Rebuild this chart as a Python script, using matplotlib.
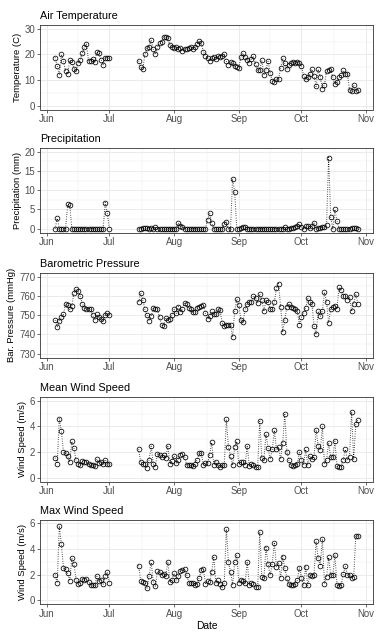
import numpy as np
import pandas as pd
import matplotlib
matplotlib.use("Agg")
import matplotlib.pyplot as plt
import matplotlib.dates as mdates

plt.rcParams['font.family'] = ['Liberation Sans', 'DejaVu Sans']

# Two recording periods (daily values), gap in between
seg1_days = pd.date_range("2019-06-05", "2019-07-01", freq="D")
seg2_days = pd.date_range("2019-07-15", "2019-10-28", freq="D")

temp_seg1 = [18.8, 15.5, 12.0, 20.0, 17.5, 13.5, 12.5, 17.8, 17.0, 14.5,
             13.5, 16.8, 17.8, 20.5, 22.8, 24.0, 17.5, 17.5, 18.2, 17.0,
             21.0, 20.5, 18.0, 16.0, 18.8, 18.8, 18.5]
temp_seg2 = [17.5, 15.0, 14.3, 20.0, 22.5, 22.8, 25.7, 22.0, 20.0, 22.8,
             24.3, 24.8, 26.8, 26.8, 26.5, 23.5, 22.8, 22.5, 22.8, 22.0,
             22.6, 21.4, 22.3, 22.0, 22.5, 22.8, 22.3, 23.0, 24.0, 25.2,
             24.5, 21.0, 19.5, 18.5, 17.5, 18.5, 19.0, 18.3, 19.5, 19.0,
             19.5, 20.0, 17.3, 16.0, 17.0, 16.5, 15.3, 15.0, 14.8, 19.0,
             20.5, 19.0, 18.0, 16.8, 18.3, 19.3, 16.2, 13.8, 14.0, 17.7,
             12.0, 14.0, 17.3, 12.9, 9.7, 9.3, 10.6, 10.3, 14.8, 18.5,
             16.5, 14.2, 15.8, 16.8, 17.0, 16.5, 17.0, 16.8, 15.5, 11.6,
             10.3, 11.0, 12.3, 14.2, 11.6, 7.5, 14.2, 11.3, 6.5, 8.0,
             13.5, 13.9, 14.2, 11.0, 8.4, 9.3, 11.0, 11.9, 13.8, 12.3,
             12.3, 6.2, 5.8, 8.0, 5.8, 6.0]

precip_seg1 = [0, 2.7, 0, 0, 0, 0, 6.4, 6.1, 0, 0,
               0, 0, 0, 0, 0, 0, 0, 0, 0, 0,
               0, 0, 0, 0, 6.8, 4.0, 0]
precip_seg2 = [0, 0, 0.2, 0.1, 0.3, 0, 0.2, 0, 0.4, 0,
               0, 0, 0, 0, 0, 0, 0, 0, 0, 1.5,
               0.6, 0.4, 0, 0, 0, 0, 0, 0, 0, 0,
               0, 0, 0, 2.2, 4.1, 1.5, 0, 0, 0, 0,
               0, 1.2, 1.7, 0, 0, 13.0, 9.5, 0, 0, 0.2,
               0.5, 0.5, 0, 0, 0, 0, 0, 0, 0, 0,
               0, 0, 0, 0, 0, 0, 0, 0, 0, 0,
               0.4, 0, 0, 0.2, 0.3, 0.5, 0.6, 1.1, 0.5, 0,
               0.6, 0.7, 0.3, 0.8, 1.4, 0, 0.1, 0.3, 0.4, 0.4,
               1.0, 18.5, 3.0, 0, 5.0, 2.0, 0, 0, 0, 0,
               0, 0, 0.2, 0.2, 0.1, 0]

press_seg1 = [747.5, 744, 747, 749, 750.5, 756, 755.5, 753, 755, 761.5,
              763.5, 762.5, 760, 756, 754, 753, 753.5, 753.5, 750, 747.5,
              750.5, 749, 748, 747, 750, 751, 750]
press_seg2 = [757, 761.5, 758, 753, 750, 747, 749.5, 754, 753, 753,
              749, 745, 744.5, 748.5, 747.5, 748, 750, 753, 751, 754.5,
              751.5, 753.5, 756.5, 756, 754, 753, 751.5, 751.5, 754, 754.5,
              755, 755.5, 751, 748, 749.5, 752, 750.5, 750.5, 753, 752.5,
              746, 744.5, 745, 745, 745, 738.5, 752, 758.5, 755.5, 747.5,
              746.5, 753, 756, 757, 757, 760, 759, 756.5, 761, 758,
              752, 758, 757, 753, 753, 757, 764, 766.5, 754.5, 741.5,
              747.5, 754.5, 756, 754.5, 754, 753, 752, 745, 749, 751,
              754, 759, 757, 756, 744.5, 740, 752, 749.5, 752, 762,
              757, 746, 753.5, 754.5, 755, 753.5, 764.5, 763, 760, 760,
              758, 759.5, 752, 756, 761, 756]

wind_mean_seg1 = [1.55, 1.1, 4.6, 3.65, 2.0, 1.95, 1.7, 1.2, 2.85, 2.35,
                  1.35, 1.1, 1.0, 1.3, 1.25, 1.2, 1.1, 0.95, 1.0, 0.9,
                  1.45, 1.15, 1.2, 1.05, 1.4, 1.1, 1.05]
wind_mean_seg2 = [2.2, 1.2, 1.1, 1.05, 0.75, 1.4, 2.45, 1.1, 0.85, 1.85,
                  1.8, 1.6, 1.75, 1.55, 2.5, 1.05, 1.3, 1.7, 1.15, 1.4,
                  1.8, 1.85, 1.65, 1.0, 1.0, 0.95, 0.9, 1.05, 1.4, 1.9,
                  1.9, 1.0, 1.15, 1.15, 1.8, 2.75, 1.0, 1.25, 0.95, 0.8,
                  0.95, 1.0, 4.55, 2.4, 1.7, 0.95, 2.4, 2.85, 1.05, 1.2,
                  1.2, 1.0, 2.5, 0.9, 1.05, 1.0, 0.85, 0.8, 4.4, 1.5,
                  1.4, 3.4, 2.3, 1.45, 2.2, 3.7, 2.2, 2.4, 1.45, 2.7,
                  5.0, 2.0, 1.35, 0.95, 0.9, 0.95, 1.05, 2.0, 1.4, 1.0,
                  2.2, 1.0, 1.7, 1.45, 1.6, 3.75, 2.5, 2.15, 4.0, 1.05,
                  1.4, 2.7, 1.6, 1.6, 2.85, 0.9, 0.85, 0.85, 1.4, 2.2,
                  1.4, 1.65, 5.15, 1.45, 4.2, 4.5]

wind_max_seg1 = [2.0, 1.35, 5.8, 4.35, 2.5, 2.4, 2.1, 1.5, 3.3, 2.85,
                 1.6, 1.3, 1.35, 1.65, 1.6, 1.65, 1.45, 1.2, 1.2, 1.15,
                 1.85, 1.5, 1.55, 1.25, 1.85, 2.2, 1.35]
wind_max_seg2 = [2.7, 1.5, 1.45, 1.35, 0.95, 1.9, 2.95, 1.45, 1.1, 2.25,
                 2.2, 2.0, 2.05, 1.9, 3.0, 1.4, 1.6, 2.1, 1.55, 1.85,
                 2.3, 2.35, 2.4, 2.0, 1.35, 1.35, 1.35, 1.2, 1.25, 1.75,
                 2.35, 2.4, 1.3, 1.5, 1.45, 2.2, 3.4, 1.35, 1.55, 1.3,
                 1.0, 1.35, 5.55, 3.0, 2.2, 1.2, 3.0, 3.5, 1.35, 1.6,
                 1.5, 1.35, 3.0, 1.2, 1.35, 1.3, 1.05, 1.0, 5.35, 1.8,
                 1.7, 4.1, 2.8, 1.95, 2.85, 4.5, 2.6, 2.9, 1.75, 3.4,
                 2.5, 1.7, 1.25, 1.15, 1.2, 1.25, 1.55, 2.55, 1.75, 1.15,
                 2.6, 1.15, 2.0, 1.9, 2.0, 4.6, 3.3, 2.7, 4.8, 1.3,
                 1.8, 3.35, 1.95, 1.95, 3.55, 1.2, 1.1, 1.2, 2.05, 2.65,
                 1.95, 2.0, 1.75, 1.8, 5.0, 5.0]

month_ticks = pd.to_datetime(["2019-06-01", "2019-07-01", "2019-08-01",
                              "2019-09-01", "2019-10-01", "2019-11-01"])
month_labels = ["Jun", "Jul", "Aug", "Sep", "Oct", "Nov"]

panels = [
    ("Air Temperature", "Temperature (C)", temp_seg1, temp_seg2,
     [0, 10, 20, 30], (-1.5, 31.5)),
    ("Precipitation", "Precipitation (mm)", precip_seg1, precip_seg2,
     [0, 5, 10, 15, 20], (-1.0, 21.0)),
    ("Barometric Pressure", "Bar. Pressure (mmHg)", press_seg1, press_seg2,
     [730, 740, 750, 760, 770], (728, 772)),
    ("Mean Wind Speed", "Wind Speed (m/s)", wind_mean_seg1, wind_mean_seg2,
     [0, 2, 4, 6], (-0.3, 6.3)),
    ("Max Wind Speed", "Wind Speed (m/s)", wind_max_seg1, wind_max_seg2,
     [0, 2, 4, 6], (-0.3, 6.3)),
]

# full daily axis, NaN in the gap so the line breaks like geom_line with NA
all_days = pd.date_range(seg1_days[0], seg2_days[-1], freq="D")
xnum = mdates.date2num(all_days)
tick_num = mdates.date2num(month_ticks)
minor_x = (tick_num[:-1] + tick_num[1:]) / 2
pad = (xnum[-1] - xnum[0]) * 0.05
xlim = (xnum[0] - pad, xnum[-1] + pad)

W, H = 383, 639
fig = plt.figure(figsize=(W / 100, H / 100), dpi=100)
fig.patch.set_facecolor("white")

tops = [25, 148, 273, 397, 519.5]   # panel top edge, px
ph = 84.5
left, right = 40, 373

grid_col = "#EBEBEB"
for i, (title, ylab, s1, s2, yt, ylim) in enumerate(panels):
    ax = fig.add_axes([left / W, 1 - (tops[i] + ph) / H, (right - left) / W, ph / H])
    series = pd.Series(np.nan, index=all_days)
    series[seg1_days] = s1
    series[seg2_days] = s2
    y = series.values

    ymin_grid = [(a + b) / 2 for a, b in zip(yt[:-1], yt[1:])]
    for v in ymin_grid:
        ax.axhline(v, color=grid_col, lw=0.35, zorder=0)
    for v in minor_x:
        ax.axvline(v, color=grid_col, lw=0.35, zorder=0)
    for v in yt:
        ax.axhline(v, color=grid_col, lw=0.7, zorder=0)
    for v in tick_num:
        ax.axvline(v, color=grid_col, lw=0.7, zorder=0)

    ax.plot(xnum, y, color="black", ls=(0, (0.6, 1.6)), lw=0.75, zorder=2)
    ax.plot(xnum, y, ls="none", marker="o", ms=3.4, mfc="none", mec="black",
            mew=0.55, zorder=3)

    ax.set_xlim(*xlim)
    ax.set_ylim(*ylim)
    ax.set_xticks(tick_num)
    ax.set_xticklabels(month_labels)
    ax.set_yticks(yt)
    ax.tick_params(axis="both", labelsize=6.9, colors="#4D4D4D", length=2,
                   width=0.5, pad=1.5)
    ax.tick_params(axis="both", color="#333333")
    for sp in ax.spines.values():
        sp.set_color("#333333")
        sp.set_linewidth(0.6)
    ax.set_title(title, loc="left", fontsize=7.8, pad=4, color="black")
    ax.set_ylabel(ylab, fontsize=6.8, labelpad=2, color="black")

    if i == len(panels) - 1:
        ax.set_xlabel("Date", fontsize=7.4, labelpad=1.5, color="black")

fig.savefig("out.png", dpi=100, facecolor="white")
